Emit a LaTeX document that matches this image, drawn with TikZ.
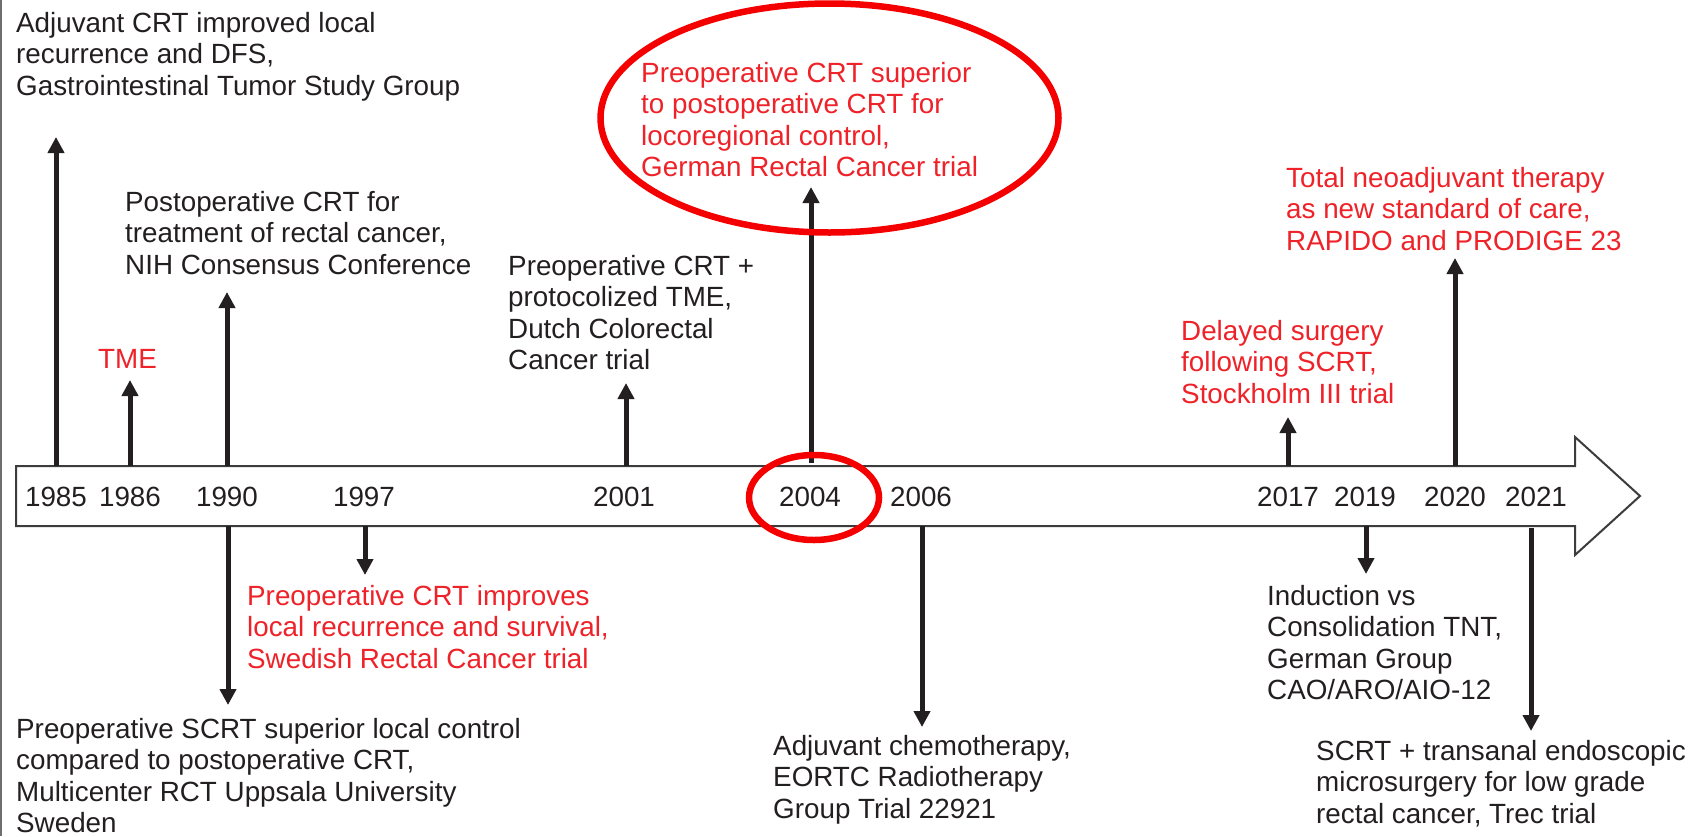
\documentclass[tikz,border=0pt]{standalone}
\usepackage{fontspec}
\setmainfont{Liberation Sans}
\usetikzlibrary{arrows.meta}
\definecolor{ink}{RGB}{35,31,32}
\definecolor{redtxt}{RGB}{238,34,40}
\definecolor{redring}{RGB}{245,0,0}
\definecolor{boxline}{RGB}{60,60,60}
\definecolor{edge}{RGB}{110,110,110}
\newcommand{\fs}{\fontsize{27.8pt}{31.4pt}\selectfont}
\newcommand{\fl}{\rule{0pt}{22pt}}
\tikzset{
  txt/.style={anchor=north west, inner sep=0pt, align=left, font=\fs, text=ink},
  rtxt/.style={txt, text=redtxt},
  yr/.style={anchor=base, inner sep=0pt, font=\fs, text=ink},
  evt/.style={line width=5pt, draw=ink, -{Triangle[length=16pt,width=16pt]}},
  ring/.style={draw=redring, line width=6.5pt}
}
\begin{document}
\begin{tikzpicture}[x=1pt,y=-1pt]
\useasboundingbox (0,0) rectangle (1693,836);
\fill[white] (0,0) rectangle (1693,836);
\draw[edge, line width=2pt] (1,0) -- (1,836);

% timeline arrow
\draw[boxline, line width=2pt, fill=white]
  (16,466) -- (1575,466) -- (1575,437) -- (1640,496) -- (1575,555) -- (1575,526) -- (16,526) -- cycle;

% years
\node[yr] (y85) at (56,506) {1985};
\node[yr] (y86) at (130,506) {1986};
\node[yr] (y90) at (227,506) {1990};
\node[yr] (y97) at (364,506) {1997};
\node[yr] (y01) at (624,506) {2001};
\node[yr] (y04) at (810,506) {2004};
\node[yr] (y06) at (921,506) {2006};
\node[yr] (y17) at (1288,506) {2017};
\node[yr] (y19) at (1365,506) {2019};
\node[yr] (y20) at (1455,506) {2020};
\node[yr] (y21) at (1536,506) {2021};

% event texts
\node[txt] (t85) at (16,10) {\fl Adjuvant CRT improved local\\recurrence and DFS,\\Gastrointestinal Tumor Study Group};
\node[rtxt] (t86) at (98,346) {\fl TME};
\node[txt] (t90u) at (125,189) {\fl Postoperative CRT for\\treatment of rectal cancer,\\NIH Consensus Conference};
\node[txt] (t90d) at (16,716) {\fl Preoperative SCRT superior local control\\compared to postoperative CRT,\\Multicenter RCT Uppsala University\\Sweden};
\node[rtxt] (t97) at (247,583) {\fl Preoperative CRT improves\\local recurrence and survival,\\Swedish Rectal Cancer trial};
\node[txt] (t01) at (508,253) {\fl Preoperative CRT +\\protocolized TME,\\Dutch Colorectal\\Cancer trial};
\node[rtxt] (t04) at (641,60) {\fl Preoperative CRT superior\\to postoperative CRT for\\locoregional control,\\German Rectal Cancer trial};
\node[txt] (t06) at (773,733) {\fl Adjuvant chemotherapy,\\EORTC Radiotherapy\\Group Trial 22921};
\node[rtxt] (t17) at (1181,318) {\fl Delayed surgery\\following SCRT,\\Stockholm III trial};
\node[txt] (t19) at (1267,583) {\fl Induction vs\\Consolidation TNT,\\German Group\\CAO/ARO/AIO-12};
\node[rtxt] (t20) at (1286,165) {\fl Total neoadjuvant therapy\\as new standard of care,\\RAPIDO and PRODIGE 23};
\node[txt] (t21) at (1316,738) {\fl SCRT + transanal endoscopic\\microsurgery for low grade\\rectal cancer, Trec trial};

% arrow end points
\coordinate (s85) at (56,466);   \coordinate (e85) at (56,137);
\coordinate (s86) at (130,466);  \coordinate (e86) at (130,380);
\coordinate (s90u) at (227,466); \coordinate (e90u) at (227,292);
\coordinate (s90d) at (228,526); \coordinate (e90d) at (228,705);
\coordinate (s97) at (365,526);  \coordinate (e97) at (365,575);
\coordinate (s01) at (626,466);  \coordinate (e01) at (626,383);
\coordinate (s04) at (811,463);  \coordinate (e04) at (811,187);
\coordinate (s06) at (922,526);  \coordinate (e06) at (922,727);
\coordinate (s17) at (1288,466); \coordinate (e17) at (1288,417);
\coordinate (s19) at (1366,526); \coordinate (e19) at (1366,574);
\coordinate (s20) at (1455,466); \coordinate (e20) at (1455,258);
\coordinate (s21) at (1531,528); \coordinate (e21) at (1531,731);

\foreach \k in {85,86,90u,90d,97,01,04,06,17,19,20,21}
  \draw[evt] (s\k) -- (e\k);

% highlight rings
\draw[ring] (829.5,118) ellipse [x radius=229, y radius=114.5];
\draw[ring] (814,497.5) ellipse [x radius=65, y radius=42.5];
\end{tikzpicture}
\end{document}
